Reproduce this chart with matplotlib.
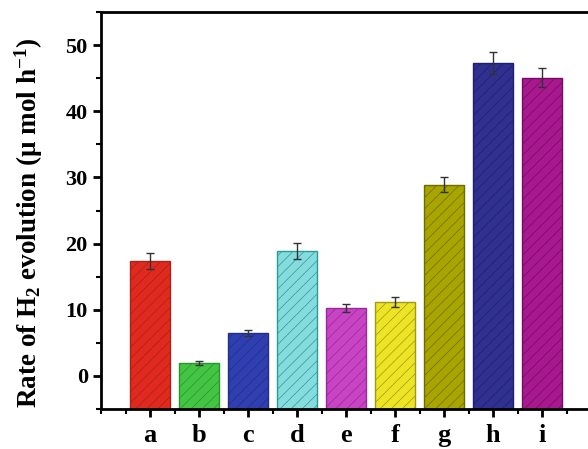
import matplotlib
matplotlib.use("Agg")
import matplotlib.pyplot as plt
from matplotlib.ticker import MultipleLocator
import numpy as np

categories = ["a", "b", "c", "d", "e", "f", "g", "h", "i"]
rates = [17.4, 1.9, 6.5, 18.9, 10.3, 11.2, 28.9, 47.3, 45.1]
errors = [1.2, 0.3, 0.5, 1.2, 0.6, 0.8, 1.1, 1.7, 1.5]
face_colors = ["#e02a20", "#44c444", "#2f3fb0", "#86dcdc", "#c844c4",
               "#ece424", "#a8a400", "#303090", "#a8188f"]
edge_colors = ["#a82218", "#2a962a", "#222f88", "#2a9a9a", "#982a98",
               "#a09a14", "#6e6c00", "#20206c", "#740c62"]

plt.rcParams['font.family'] = ['Liberation Serif', 'DejaVu Serif']
plt.rcParams['mathtext.fontset'] = 'custom'
plt.rcParams['mathtext.rm'] = 'Liberation Serif:bold'
plt.rcParams['mathtext.bf'] = 'Liberation Serif:bold'
plt.rcParams['mathtext.it'] = 'Liberation Serif:bold:italic'
plt.rcParams['hatch.linewidth'] = 0.5

fig = plt.figure(figsize=(5.88, 4.49), dpi=100)
ax = fig.add_axes([101/588, 40/449, 490/588, 397/449])

x = np.arange(1, len(categories) + 1)
for xi, v, e, fc, ec in zip(x, rates, errors, face_colors, edge_colors):
    ax.bar(xi, v + 5, bottom=-5, width=0.82, color=fc, edgecolor=ec,
           hatch='///', linewidth=1.0, zorder=2)
    ax.errorbar(xi, v, yerr=e, fmt='none', ecolor='#333333', elinewidth=1.0,
                capsize=3, capthick=1.0, zorder=3)

ax.set_xlim(0, 10)
ax.set_ylim(-5, 55)
ax.set_xticks(x)
ax.set_xticklabels(categories, fontsize=19, fontweight='bold')
ax.xaxis.set_minor_locator(MultipleLocator(0.5))
ax.yaxis.set_major_locator(MultipleLocator(10))
ax.yaxis.set_minor_locator(MultipleLocator(5))
ax.set_yticks([0, 10, 20, 30, 40, 50])
for lab in ax.get_yticklabels():
    lab.set_fontweight('bold')
    lab.set_fontsize(16)

ax.tick_params(axis='both', which='major', direction='out', length=6, width=2)
ax.tick_params(axis='both', which='minor', direction='out', length=3.5, width=1.5)
ax.tick_params(axis='x', pad=5)
for s in ['left', 'bottom', 'top', 'right']:
    ax.spines[s].set_linewidth(2)

ax.set_ylabel("Rate of H$_\\mathbf{2}$ evolution (\u03bc mol h$^\\mathbf{-1}$)",
              fontsize=19.5, fontweight='bold')
ax.yaxis.set_label_coords(-0.115, 0.47)

fig.savefig("out.png", dpi=100)
